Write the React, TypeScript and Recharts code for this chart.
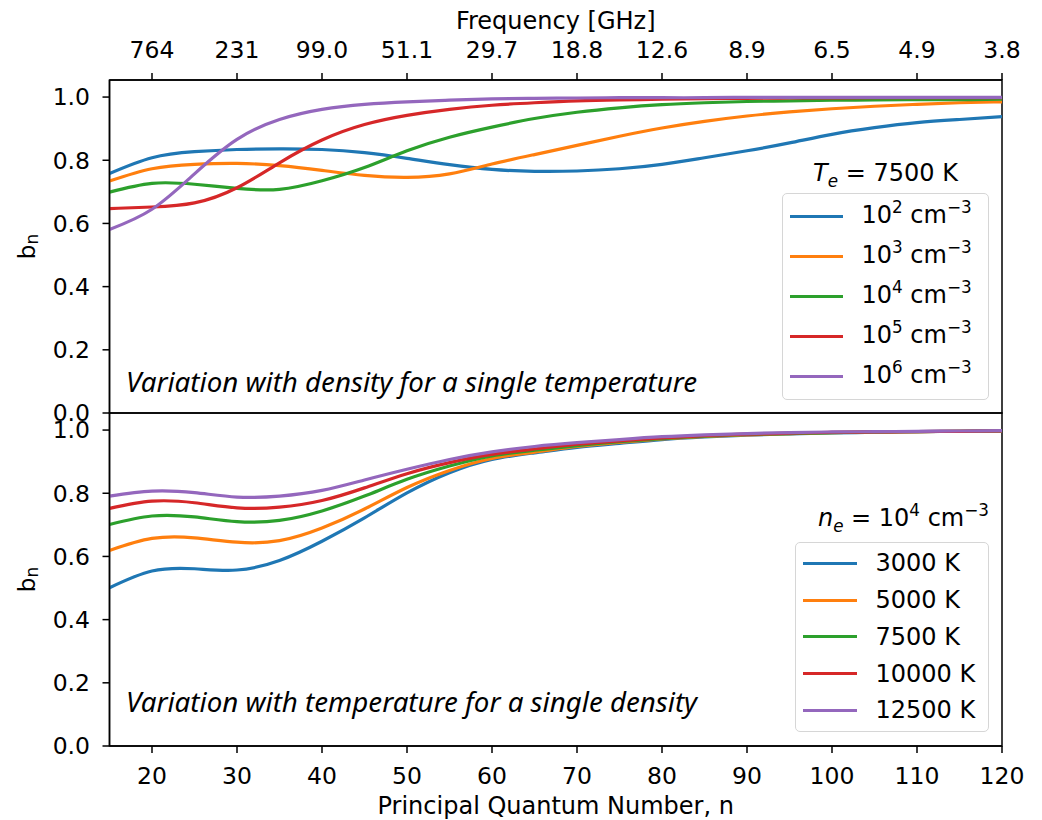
import React from "react";
import { LineChart, Line, XAxis, YAxis, ReferenceArea, Legend, Label } from "recharts";

// principal quantum number grid shared by every curve
const nGrid = [15, 20, 25, 30, 35, 40, 45, 50, 55, 60, 65, 70, 75, 80, 85, 90, 95, 100, 105, 110, 115, 120];

// top axis: frequency labels at n = 20..120
const freqTicks = [20, 30, 40, 50, 60, 70, 80, 90, 100, 110, 120];
const freqLabels = ["764", "231", "99.0", "51.1", "29.7", "18.8", "12.6", "8.9", "6.5", "4.9", "3.8"];
const nTicks = [20, 30, 40, 50, 60, 70, 80, 90, 100, 110, 120];
const yTicks = [0, 0.2, 0.4, 0.6, 0.8, 1.0];

// top panel: Te = 7500 K, varying density
const densityExponents = [2, 3, 4, 5, 6];
const bnDens2 = [0.758, 0.808, 0.827, 0.834, 0.836, 0.834, 0.824, 0.806, 0.786, 0.771, 0.765, 0.766, 0.773, 0.787, 0.808, 0.83, 0.855, 0.882, 0.903, 0.919, 0.929, 0.938];
const bnDens3 = [0.734, 0.773, 0.787, 0.79, 0.783, 0.768, 0.752, 0.746, 0.757, 0.788, 0.818, 0.847, 0.876, 0.902, 0.923, 0.94, 0.953, 0.963, 0.971, 0.977, 0.982, 0.985];
const bnDens4 = [0.699, 0.727, 0.724, 0.711, 0.708, 0.735, 0.777, 0.83, 0.873, 0.905, 0.932, 0.952, 0.966, 0.976, 0.982, 0.986, 0.988, 0.99, 0.991, 0.992, 0.992, 0.993];
const bnDens5 = [0.647, 0.652, 0.665, 0.713, 0.792, 0.864, 0.913, 0.942, 0.961, 0.974, 0.982, 0.988, 0.991, 0.993, 0.995, 0.996, 0.997, 0.997, 0.998, 0.998, 0.998, 0.998];
const bnDens6 = [0.581, 0.645, 0.757, 0.866, 0.929, 0.961, 0.977, 0.985, 0.99, 0.994, 0.996, 0.997, 0.998, 0.998, 0.998, 0.999, 0.999, 0.999, 0.999, 0.999, 0.999, 0.999];

// bottom panel: ne = 1e4 cm^-3, varying temperature
const tempLabels = ["3000 K", "5000 K", "7500 K", "10000 K", "12500 K"];
const bnT3000 = [0.501, 0.554, 0.561, 0.557, 0.587, 0.648, 0.722, 0.801, 0.865, 0.907, 0.928, 0.945, 0.958, 0.97, 0.978, 0.984, 0.988, 0.991, 0.993, 0.995, 0.996, 0.997];
const bnT5000 = [0.619, 0.657, 0.659, 0.645, 0.65, 0.69, 0.75, 0.818, 0.872, 0.91, 0.93, 0.948, 0.961, 0.972, 0.98, 0.985, 0.989, 0.992, 0.994, 0.995, 0.996, 0.997];
const bnT7500 = [0.701, 0.728, 0.725, 0.71, 0.714, 0.744, 0.791, 0.844, 0.886, 0.918, 0.936, 0.951, 0.963, 0.973, 0.981, 0.986, 0.989, 0.992, 0.994, 0.995, 0.996, 0.997];
const bnT10000 = [0.752, 0.775, 0.77, 0.754, 0.756, 0.777, 0.817, 0.862, 0.897, 0.923, 0.94, 0.955, 0.966, 0.975, 0.982, 0.987, 0.99, 0.993, 0.994, 0.995, 0.996, 0.997];
const bnT12500 = [0.791, 0.807, 0.802, 0.788, 0.791, 0.809, 0.842, 0.876, 0.907, 0.931, 0.948, 0.96, 0.97, 0.979, 0.985, 0.989, 0.992, 0.994, 0.995, 0.996, 0.997, 0.998];

const colors = ["#1f77b4", "#ff7f0e", "#2ca02c", "#d62728", "#9467bd"];
const topKeys = ["d2", "d3", "d4", "d5", "d6"];
const bottomKeys = ["t3000", "t5000", "t7500", "t10000", "t12500"];

const topSeries = [bnDens2, bnDens3, bnDens4, bnDens5, bnDens6];
const bottomSeries = [bnT3000, bnT5000, bnT7500, bnT10000, bnT12500];

const topData = nGrid.map((n, i) => {
  const row: Record<string, number> = { n };
  topKeys.forEach((k, j) => (row[k] = topSeries[j][i]));
  return row;
});
const bottomData = nGrid.map((n, i) => {
  const row: Record<string, number> = { n };
  bottomKeys.forEach((k, j) => (row[k] = bottomSeries[j][i]));
  return row;
});

const FONT = '"DejaVu Sans", sans-serif';
const TICK = { fill: "#000", fontSize: 23.5, fontFamily: FONT };
const AXIS_LINE = { stroke: "#000", strokeWidth: 1.5 };
const Y_MAX = 1.054;

const sup = (s: string) => (
  <span style={{ fontSize: "0.7em", position: "relative", top: "-0.6em" }}>{s}</span>
);

function YLabel(props: any) {
  const vb = props.viewBox;
  const cx = 27;
  const cy = vb.y + vb.height / 2;
  return (
    <text x={cx} y={cy} transform={`rotate(-90 ${cx} ${cy})`} textAnchor="middle" dominantBaseline="central" fontFamily={FONT} fontSize={23} fill="#000">
      b<tspan dy={5} fontSize={17}>n</tspan>
    </text>
  );
}

function BoxLegend(props: any) {
  const { payload, keys, title, titleAlign, titleHeight, rowHeight, boxHeight, width, handleWidth, labelGap, renderLabel } = props;
  const items = [...(payload || [])].sort((a: any, b: any) => keys.indexOf(a.dataKey) - keys.indexOf(b.dataKey));
  return (
    <div style={{ width, fontFamily: FONT, fontSize: 24, color: "#000" }}>
      <div style={{ height: titleHeight, lineHeight: `${titleHeight}px`, textAlign: titleAlign, whiteSpace: "nowrap" }}>{title}</div>
      <div style={{ boxSizing: "border-box", height: boxHeight, border: "1.5px solid #d6d6d6", borderRadius: 5, background: "rgba(255,255,255,0.8)", paddingTop: 2 }}>
        {items.map((it: any) => {
          const idx = keys.indexOf(it.dataKey);
          return (
            <div key={it.dataKey} style={{ height: rowHeight, display: "flex", alignItems: "center", whiteSpace: "nowrap" }}>
              <div style={{ marginLeft: 6.5, width: handleWidth, height: 3, background: colors[idx] }} />
              <div style={{ marginLeft: labelGap, lineHeight: "24px" }}>{renderLabel(idx)}</div>
            </div>
          );
        })}
      </div>
    </div>
  );
}

export default function App() {
  return (
    <div style={{ position: "absolute", left: 0, top: 0, width: 1042, height: 820, background: "#fff" }}>
      <div style={{ position: "absolute", left: 0, top: 0 }}>
        <LineChart width={1042} height={430} data={topData} margin={{ top: 0, right: 40, bottom: 17, left: 49.5 }}>
          <XAxis
            dataKey="n"
            type="number"
            orientation="top"
            domain={[15, 120]}
            ticks={freqTicks}
            height={80}
            tickSize={7}
            tickMargin={15}
            tick={TICK}
            axisLine={AXIS_LINE}
            tickLine={AXIS_LINE}
            tickFormatter={(v: number) => freqLabels[freqTicks.indexOf(v)]}
            allowDataOverflow
          >
            <Label
              content={(p: any) => (
                <text x={p.viewBox.x + p.viewBox.width / 2} y={29} textAnchor="middle" fontFamily={FONT} fontSize={24} fill="#000">
                  Frequency [GHz]
                </text>
              )}
            />
          </XAxis>
          <YAxis
            type="number"
            domain={[0, Y_MAX]}
            ticks={yTicks}
            width={60}
            tickSize={7}
            tickMargin={12.5}
            tick={TICK}
            axisLine={AXIS_LINE}
            tickLine={AXIS_LINE}
            tickFormatter={(v: number) => v.toFixed(1)}
            allowDataOverflow
          >
            <Label content={YLabel} />
          </YAxis>
          {topKeys.map((k, i) => (
            <Line key={k} dataKey={k} name={`1e${densityExponents[i]}`} type="natural" stroke={colors[i]} strokeWidth={3.2} dot={false} isAnimationActive={false} />
          ))}
          <ReferenceArea x1={15} x2={120} y1={0} y2={Y_MAX} fill="none" stroke="#000" strokeWidth={1.5} ifOverflow="extendDomain" />
          <text x={126} y={381} dominantBaseline="central" fontFamily='"Noto Sans", sans-serif' fontStyle="italic" fontSize={27.7} fill="#000">
            Variation with density for a single temperature
          </text>
          <Legend
            layout="horizontal"
            align="center"
            verticalAlign="middle"
            wrapperStyle={{ left: 782, top: 153, width: 207 }}
            content={(p: any) => (
              <BoxLegend
                payload={p.payload}
                keys={topKeys}
                width={207}
                title={
                  <span>
                    <i>T</i>
                    <span style={{ fontSize: "0.7em", position: "relative", top: "0.35em", fontStyle: "italic" }}>e</span> = 7500 K
                  </span>
                }
                titleAlign="center"
                titleHeight={40}
                rowHeight={40}
                boxHeight={207}
                handleWidth={53}
                labelGap={19}
                renderLabel={(i: number) => (
                  <span>
                    10{sup(String(densityExponents[i]))} cm{sup("\u22123")}
                  </span>
                )}
              />
            )}
          />
        </LineChart>
      </div>
      <div style={{ position: "absolute", left: 0, top: 400 }}>
        <LineChart width={1042} height={420} data={bottomData} margin={{ top: 13, right: 40, bottom: 0, left: 49.5 }}>
          <XAxis
            dataKey="n"
            type="number"
            domain={[15, 120]}
            ticks={nTicks}
            height={74}
            tickSize={7}
            tickMargin={14}
            tick={TICK}
            axisLine={AXIS_LINE}
            tickLine={AXIS_LINE}
            allowDataOverflow
          >
            <Label
              content={(p: any) => (
                <text x={p.viewBox.x + p.viewBox.width / 2} y={413.5} textAnchor="middle" fontFamily={FONT} fontSize={24} fill="#000">
                  Principal Quantum Number, n
                </text>
              )}
            />
          </XAxis>
          <YAxis
            type="number"
            domain={[0, Y_MAX]}
            ticks={yTicks}
            width={60}
            tickSize={7}
            tickMargin={12.5}
            tick={TICK}
            axisLine={AXIS_LINE}
            tickLine={AXIS_LINE}
            tickFormatter={(v: number) => v.toFixed(1)}
            allowDataOverflow
          >
            <Label content={YLabel} />
          </YAxis>
          {bottomKeys.map((k, i) => (
            <Line key={k} dataKey={k} name={tempLabels[i]} type="natural" stroke={colors[i]} strokeWidth={3.2} dot={false} isAnimationActive={false} />
          ))}
          <ReferenceArea x1={15} x2={120} y1={0} y2={Y_MAX} fill="none" stroke="#000" strokeWidth={1.5} ifOverflow="extendDomain" />
          <text x={126} y={301} dominantBaseline="central" fontFamily='"Noto Sans", sans-serif' fontStyle="italic" fontSize={27.7} fill="#000">
            Variation with temperature for a single density
          </text>
          <Legend
            layout="horizontal"
            align="center"
            verticalAlign="middle"
            wrapperStyle={{ left: 795, top: 94, width: 194 }}
            content={(p: any) => (
              <BoxLegend
                payload={p.payload}
                keys={bottomKeys}
                width={194}
                title={
                  <span>
                    <i>n</i>
                    <span style={{ fontSize: "0.7em", position: "relative", top: "0.35em", fontStyle: "italic" }}>e</span> = 10{sup("4")} cm{sup("\u22123")}
                  </span>
                }
                titleAlign="right"
                titleHeight={48}
                rowHeight={36.75}
                boxHeight={190}
                handleWidth={54}
                labelGap={19}
                renderLabel={(i: number) => <span>{tempLabels[i]}</span>}
              />
            )}
          />
        </LineChart>
      </div>
    </div>
  );
}
